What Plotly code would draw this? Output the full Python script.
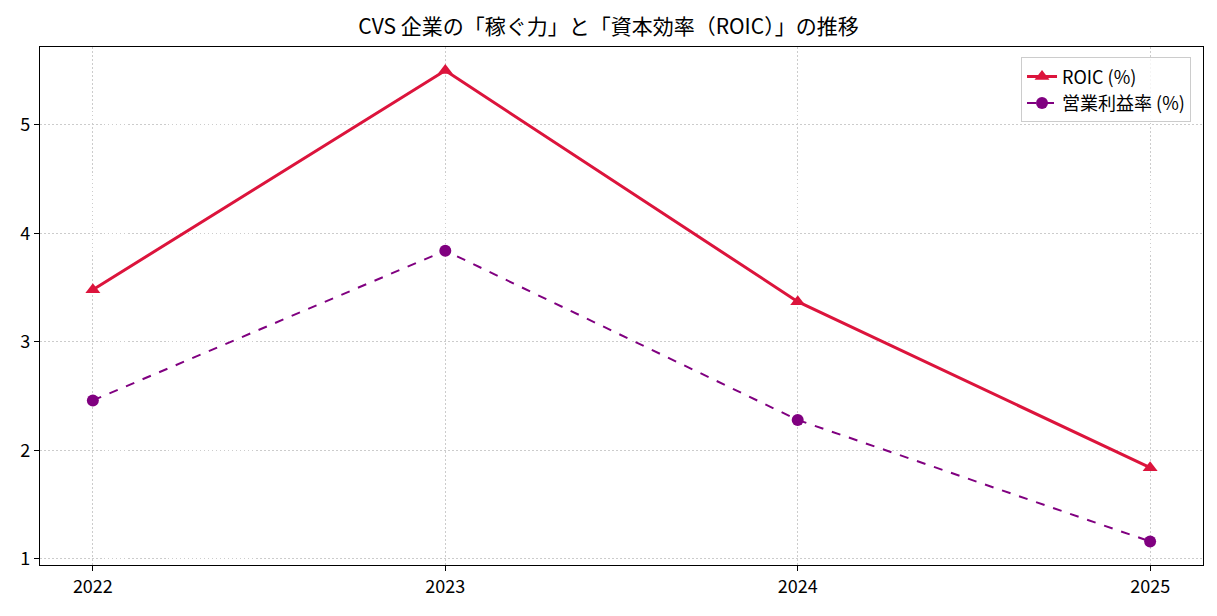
import plotly.graph_objects as go

years = [2022, 2023, 2024, 2025]
roic = [3.48, 5.50, 3.37, 1.84]
op_margin = [2.46, 3.84, 2.28, 1.16]
title = "CVS 企業の「稼ぐ力」と「資本効率（ROIC）」の推移"
name_roic = "ROIC (%)"
name_op = "営業利益率 (%)"

FONT = "Noto Sans CJK JP"

fig = go.Figure()
fig.add_trace(go.Scatter(
    x=years, y=roic, name=name_roic, mode="lines+markers",
    line=dict(color="#DC143C", width=3),
    marker=dict(symbol="triangle-up", size=13, color="#DC143C"),
))
fig.add_trace(go.Scatter(
    x=years, y=op_margin, name=name_op, mode="lines+markers",
    line=dict(color="#800080", width=2, dash="dash"),
    marker=dict(symbol="circle", size=12, color="#800080"),
))

fig.update_layout(
    width=1217, height=616,
    margin=dict(l=40, r=14, t=47, b=51),
    paper_bgcolor="white", plot_bgcolor="white",
    font=dict(family=FONT, size=18, color="black"),
    title=dict(text=title, x=0.5, xanchor="center", y=1 - 27 / 616, yanchor="middle",
               font=dict(family=FONT, size=21, color="black")),
    legend=dict(x=0.9897, y=0.98, xanchor="right", yanchor="top",
                bgcolor="rgba(255,255,255,0.8)", bordercolor="#cccccc", borderwidth=1,
                font=dict(family=FONT, size=18)),
    showlegend=True,
)
grid = dict(showgrid=True, gridcolor="#cccccc", griddash="1.5px,2.5px", gridwidth=1, zeroline=False)
fig.update_xaxes(
    range=[2021.85, 2025.15], tickmode="array", tickvals=years,
    ticktext=[str(y) for y in years], tickfont=dict(size=18),
    showline=True, linecolor="black", linewidth=1.2, mirror=True,
    ticks="outside", ticklen=5, tickcolor="black", **grid,
)
fig.update_yaxes(
    range=[0.943, 5.717], tickmode="array", tickvals=[1, 2, 3, 4, 5], tickfont=dict(size=18),
    showline=True, linecolor="black", linewidth=1.2, mirror=True,
    ticks="outside", ticklen=5, tickcolor="black", **grid,
)

fig.write_html("out.html")
